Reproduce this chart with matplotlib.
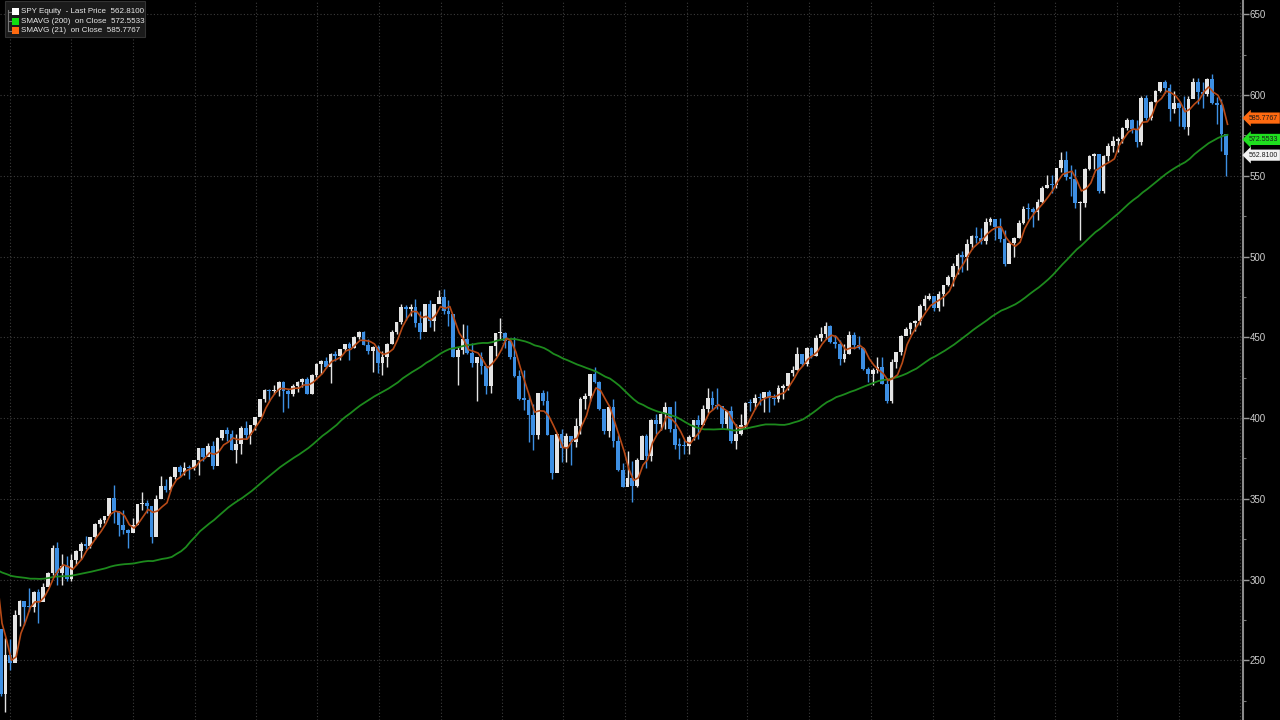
import numpy as np
import pandas as pd
import matplotlib
matplotlib.use('Agg')
import matplotlib.pyplot as plt
import matplotlib.dates as mdates
import matplotlib.transforms as mtransforms
from matplotlib.patches import Rectangle
from matplotlib.lines import Line2D
from matplotlib.ticker import MultipleLocator

plt.rcParams['font.family'] = ['Liberation Sans Narrow', 'Liberation Sans', 'DejaVu Sans']

# weekly closes before the chart window (Jun 2019 - Mar 13 2020), only used to warm up the averages
hist_close = [287.65, 289.26, 294.00, 293.00, 298.46, 300.65, 297.17, 302.01, 292.62, 291.62,
              288.85, 284.85, 292.45, 298.05, 301.09, 298.28, 295.40, 294.35, 296.28, 297.97,
              302.97, 306.14, 308.94, 311.79, 310.96, 314.31, 314.87, 317.32, 320.73, 322.86,
              322.41, 325.71, 331.95, 328.77, 321.73, 332.20, 337.60, 333.48, 296.26, 297.46,
              269.32]

# SPY weekly bars, week ending 2020-03-20 .. 2025-03-14
close = [228.80, 253.42, 248.19, 278.20, 286.64, 282.97, 282.79, 292.44, 286.28, 295.44,
         304.32, 319.34, 304.21, 308.64, 300.05, 312.23, 317.59, 321.72, 320.88, 326.52,
         334.57, 336.84, 339.48, 350.58, 342.57, 334.06, 330.65, 328.73, 333.84, 346.85,
         347.29, 345.78, 326.54, 350.16, 358.10, 355.33, 363.67, 369.85, 366.30, 369.18,
         369.00, 373.88, 381.26, 375.70, 382.88, 370.07, 387.71, 392.64, 390.03, 380.36,
         383.63, 394.06, 389.48, 395.98, 400.61, 411.49, 417.26, 416.74, 417.30, 422.12,
         416.58, 414.94, 420.04, 422.60, 424.31, 414.92, 426.61, 433.72, 435.52, 431.34,
         439.94, 438.51, 442.49, 445.92, 443.36, 450.25, 453.08, 445.44, 441.40, 443.91,
         434.24, 437.86, 445.87, 453.12, 459.25, 468.53, 467.27, 468.89, 458.97, 453.42,
         470.74, 459.87, 470.60, 474.96, 466.09, 464.72, 437.98, 441.95, 448.70, 440.46,
         434.23, 437.75, 432.17, 420.07, 444.52, 452.69, 452.92, 447.57, 437.79, 426.04,
         412.00, 411.34, 401.72, 389.63, 415.26, 410.54, 389.80, 365.86, 390.08, 381.24,
         388.67, 385.13, 395.09, 411.99, 413.47, 427.10, 422.14, 405.31, 392.24, 406.60,
         385.56, 367.95, 357.18, 362.79, 357.63, 374.29, 389.02, 376.35, 398.51, 396.03,
         402.33, 406.91, 393.28, 383.27, 382.91, 382.43, 388.08, 398.50, 395.88, 405.68,
         412.35, 408.04, 407.26, 396.38, 404.19, 385.91, 389.99, 395.75, 409.39, 409.19,
         412.46, 412.20, 415.93, 412.63, 411.59, 418.62, 420.02, 427.92, 429.90, 439.46,
         433.21, 443.28, 438.55, 449.28, 452.18, 456.92, 446.81, 445.65, 436.50, 439.97,
         451.19, 445.52, 443.37, 430.42, 427.48, 429.54, 431.50, 421.19, 410.68, 434.69,
         440.61, 450.79, 455.30, 459.10, 460.20, 469.33, 473.65, 475.31, 467.92, 476.68,
         482.43, 487.41, 494.35, 501.20, 499.51, 507.85, 512.85, 511.72, 509.83, 521.21,
         523.07, 518.43, 510.85, 495.16, 508.26, 511.29, 520.84, 529.45, 529.44, 527.37,
         534.01, 542.78, 544.51, 544.22, 554.64, 559.99, 548.99, 547.77, 532.90, 532.99,
         554.31, 562.13, 563.68, 540.36, 562.01, 568.25, 571.47, 572.98, 579.58, 584.59,
         579.04, 571.04, 598.19, 585.75, 595.51, 602.55, 607.81, 604.21, 591.15, 595.01,
         591.95, 580.49, 597.58, 607.97, 601.82, 600.77, 609.70, 594.85, 594.18, 575.92,
         562.81]

high = [256.90, 263.60, 263.30, 281.20, 287.30, 285.00, 294.90, 292.95, 294.20, 297.90,
        304.90, 321.30, 323.40, 315.60, 314.50, 315.70, 318.20, 323.00, 327.20, 326.60,
        334.90, 338.30, 339.60, 350.70, 358.75, 342.60, 343.10, 331.00, 338.30, 347.00,
        354.00, 349.30, 342.98, 352.20, 364.40, 362.30, 364.20, 369.90, 371.00, 372.50,
        371.20, 374.00, 381.50, 381.10, 384.80, 385.90, 388.50, 392.90, 394.20, 392.60,
        390.00, 395.00, 398.10, 396.00, 400.70, 411.70, 417.90, 418.20, 420.70, 422.80,
        422.70, 418.20, 421.30, 422.90, 424.60, 425.50, 427.10, 434.10, 435.80, 437.90,
        440.30, 441.80, 442.90, 446.00, 447.10, 450.60, 454.05, 453.80, 448.90, 444.90,
        445.00, 441.70, 446.30, 454.70, 459.60, 470.70, 470.00, 470.90, 473.50, 466.60,
        470.90, 472.90, 470.90, 479.00, 479.98, 473.20, 464.00, 444.00, 458.10, 457.90,
        446.30, 437.80, 441.10, 432.30, 444.90, 452.98, 462.10, 453.50, 445.80, 450.00,
        429.70, 429.70, 414.50, 408.60, 415.40, 417.40, 416.50, 383.90, 390.10, 393.20,
        390.60, 388.80, 400.20, 413.00, 415.70, 427.20, 431.70, 422.80, 405.80, 407.50,
        411.70, 389.30, 372.30, 379.50, 373.60, 375.50, 389.50, 390.40, 399.40, 402.30,
        402.90, 410.00, 406.90, 410.50, 387.40, 386.40, 389.30, 399.10, 402.00, 408.20,
        418.30, 416.50, 418.30, 404.20, 404.40, 407.50, 396.50, 402.50, 409.70, 412.00,
        415.10, 415.70, 416.00, 417.60, 415.10, 420.70, 420.80, 428.00, 431.99, 443.90,
        439.10, 444.30, 444.10, 451.40, 456.40, 459.40, 457.80, 451.70, 448.10, 445.70,
        453.70, 453.10, 451.10, 444.00, 431.90, 431.10, 438.10, 438.10, 424.80, 436.30,
        441.00, 451.40, 456.40, 459.70, 460.70, 470.50, 475.90, 477.60, 474.00, 478.60,
        482.70, 488.80, 496.00, 502.00, 503.50, 511.00, 513.30, 518.20, 517.40, 524.10,
        524.60, 523.20, 523.80, 516.50, 509.90, 512.30, 522.40, 531.50, 533.10, 531.00,
        535.40, 543.40, 550.30, 550.30, 555.10, 565.00, 565.20, 556.70, 554.10, 534.70,
        555.00, 563.20, 564.20, 563.00, 563.00, 570.40, 574.70, 574.10, 580.30, 585.80,
        584.90, 584.30, 599.60, 600.20, 596.60, 603.40, 608.00, 609.10, 607.10, 602.50,
        595.50, 599.40, 599.40, 610.80, 610.80, 608.10, 610.50, 613.20, 599.00, 597.40,
        575.80]

low = [228.00, 218.26, 243.90, 254.00, 271.40, 272.00, 280.30, 279.80, 272.99, 288.50,
       297.30, 302.60, 296.70, 296.50, 299.30, 298.90, 309.10, 312.60, 319.00, 319.80,
       325.00, 332.30, 335.20, 339.60, 334.87, 326.90, 327.97, 319.80, 331.20, 333.50,
       343.10, 340.90, 322.60, 327.10, 350.50, 354.20, 354.90, 362.50, 363.30, 365.00,
       362.00, 368.10, 364.80, 373.40, 376.50, 368.30, 371.90, 386.10, 386.00, 380.00,
       372.00, 377.50, 387.20, 383.90, 392.60, 403.40, 410.20, 410.60, 414.90, 413.70,
       404.00, 406.50, 413.70, 416.30, 419.00, 414.70, 414.70, 425.60, 427.50, 430.90,
       421.97, 435.10, 436.10, 441.30, 436.10, 443.40, 449.00, 445.30, 439.90, 428.80,
       427.70, 426.40, 431.50, 446.10, 452.00, 458.20, 460.70, 463.40, 456.40, 448.90,
       455.60, 456.60, 454.00, 472.70, 464.65, 456.80, 437.80, 420.76, 439.80, 439.70,
       431.80, 410.60, 427.10, 415.10, 415.80, 438.40, 449.10, 443.50, 436.60, 425.40,
       411.20, 405.00, 385.20, 380.50, 386.96, 408.00, 389.75, 362.20, 366.90, 372.60,
       372.60, 371.00, 382.20, 389.90, 405.70, 410.70, 421.80, 404.90, 390.00, 388.40,
       382.10, 366.90, 357.00, 359.20, 348.11, 357.30, 375.10, 368.80, 373.60, 390.00,
       392.80, 393.50, 391.40, 381.00, 374.80, 377.80, 377.80, 386.30, 387.30, 395.90,
       402.90, 405.00, 405.60, 393.60, 393.00, 384.30, 380.65, 389.40, 393.70, 404.50,
       405.60, 408.20, 403.80, 403.70, 408.10, 410.20, 411.50, 417.30, 425.80, 429.60,
       432.30, 432.50, 437.10, 438.70, 447.60, 449.20, 446.30, 443.60, 433.00, 435.00,
       439.90, 442.90, 442.90, 429.90, 422.30, 420.20, 428.00, 421.00, 409.20, 409.20,
       431.10, 439.10, 451.20, 452.30, 453.90, 457.90, 467.10, 472.90, 466.40, 466.40,
       469.70, 481.80, 482.00, 489.30, 490.20, 491.40, 504.90, 508.60, 508.00, 508.00,
       519.40, 510.50, 509.10, 493.86, 496.80, 499.90, 511.40, 520.30, 523.10, 518.40,
       522.70, 533.10, 542.30, 539.60, 542.70, 552.10, 547.70, 537.50, 530.00, 510.27,
       530.90, 553.90, 554.40, 539.40, 539.40, 559.00, 565.00, 565.00, 570.20, 578.20,
       576.40, 568.00, 569.30, 584.50, 584.40, 595.60, 601.80, 601.60, 583.90, 588.80,
       580.90, 579.20, 575.35, 597.90, 594.40, 592.20, 599.20, 594.50, 582.40, 565.60,
       549.70]

legend_rows = ['SPY Equity  - Last Price  562.8100',
               'SMAVG (200)  on Close  572.5533',
               'SMAVG (21)  on Close  585.7767']
tag_values = [585.7767, 572.5533, 562.8100]
tag_labels = ['585.7767', '572.5533', '562.8100']

weeks = pd.date_range('2020-03-20', periods=len(close), freq='W-FRI')
hist_weeks = pd.date_range(end=weeks[0] - pd.Timedelta(days=7), periods=len(hist_close), freq='W-FRI')
all_close = pd.Series(hist_close + close, index=hist_weeks.append(weeks))
sma200 = all_close.rolling(40).mean()   # ~200 trading days
sma21 = all_close.rolling(4).mean()     # ~21 trading days
opens = all_close.shift(1)[weeks].values

c = np.array(close)
up = c >= opens
up_col, dn_col = '#e4e4e4', '#3d8fe3'
cols = np.where(up, up_col, dn_col)

fig = plt.figure(figsize=(12.8, 7.2), dpi=100, facecolor='black')
ax = fig.add_axes([0, 0, 1243 / 1280, 1])
ax.set_facecolor('black')

xc = mdates.date2num(weeks - pd.Timedelta(days=2))
ax.vlines(xc, low, high, colors=cols, lw=1.0, zorder=3)
body_lo = np.minimum(opens, c)
body_h = np.maximum(np.abs(c - opens), 0.8)
ax.bar(xc, body_h, bottom=body_lo, width=5.5, color=cols, linewidth=0, zorder=3)

ax.plot(mdates.date2num(all_close.index), sma200.values, color='#1d8a1d', lw=1.3, zorder=4)
ax.plot(mdates.date2num(all_close.index), sma21.values, color='#b84a17', lw=1.2, zorder=4)

ax.set_xlim(mdates.date2num(pd.Timestamp('2020-03-17')), mdates.date2num(pd.Timestamp('2025-04-06')))
ax.set_ylim(213, 658.9)

ax.xaxis.set_major_locator(mdates.MonthLocator(bymonth=[1, 4, 7, 10]))
ax.tick_params(axis='x', length=0, labelbottom=False)
ax.yaxis.tick_right()
ax.yaxis.set_major_locator(MultipleLocator(50))
ax.yaxis.set_minor_locator(MultipleLocator(25))
ax.tick_params(axis='y', which='major', direction='out', length=4, width=1,
               color='#9a9a9a', labelcolor='#cfcfcf', labelsize=7, pad=1)
ax.tick_params(axis='y', which='minor', direction='out', length=2, width=0.8, color='#7a7a7a')
for s in ['top', 'left', 'bottom']:
    ax.spines[s].set_visible(False)
ax.spines['right'].set_color('#8a8a8a')
ax.spines['right'].set_linewidth(1.5)
ax.grid(True, which='major', color='#3c3c3c', linestyle=(0, (1, 2)), lw=0.8)
ax.set_axisbelow(True)

# last-value tags on the axis
tr = mtransforms.blended_transform_factory(ax.transAxes, ax.transData)
tag_fc = ['#ff6a10', '#1fe01f', '#f2f2f2']
for v, lab, fc in zip(tag_values, tag_labels, tag_fc):
    ax.text(1.0045, v, lab, transform=tr, fontsize=5, color='#1a1a1a', va='center', ha='left',
            clip_on=False, bbox=dict(boxstyle='larrow,pad=0.3', fc=fc, ec='none'))

# legend box, top left
W, H = 1280, 720
fig.add_artist(Rectangle((5 / W, 1 - 37 / H), 140 / W, 36 / H, transform=fig.transFigure,
                         fc='#1b1b1b', ec='#333333', lw=0.8))
fig.add_artist(Line2D([8 / W, 8 / W], [1 - 10 / H, 1 - 31 / H], transform=fig.transFigure,
                      color='#777777', lw=0.8))
sq_cols = ['#ffffff', '#10e010', '#ff6a10']
for i, (txt, sc) in enumerate(zip(legend_rows, sq_cols)):
    yc = 1 - (11.5 + i * 9.7) / H
    fig.add_artist(Line2D([8 / W, 11 / W], [yc, yc], transform=fig.transFigure, color='#777777', lw=0.8))
    fig.add_artist(Rectangle((12 / W, yc - 3.5 / H), 7 / W, 7 / H, transform=fig.transFigure,
                             fc=sc, ec='none'))
    fig.text(21 / W, yc, txt, fontsize=5.8, color='#e8e8e8', va='center', ha='left')

fig.savefig('out.png', dpi=100, facecolor='black')
